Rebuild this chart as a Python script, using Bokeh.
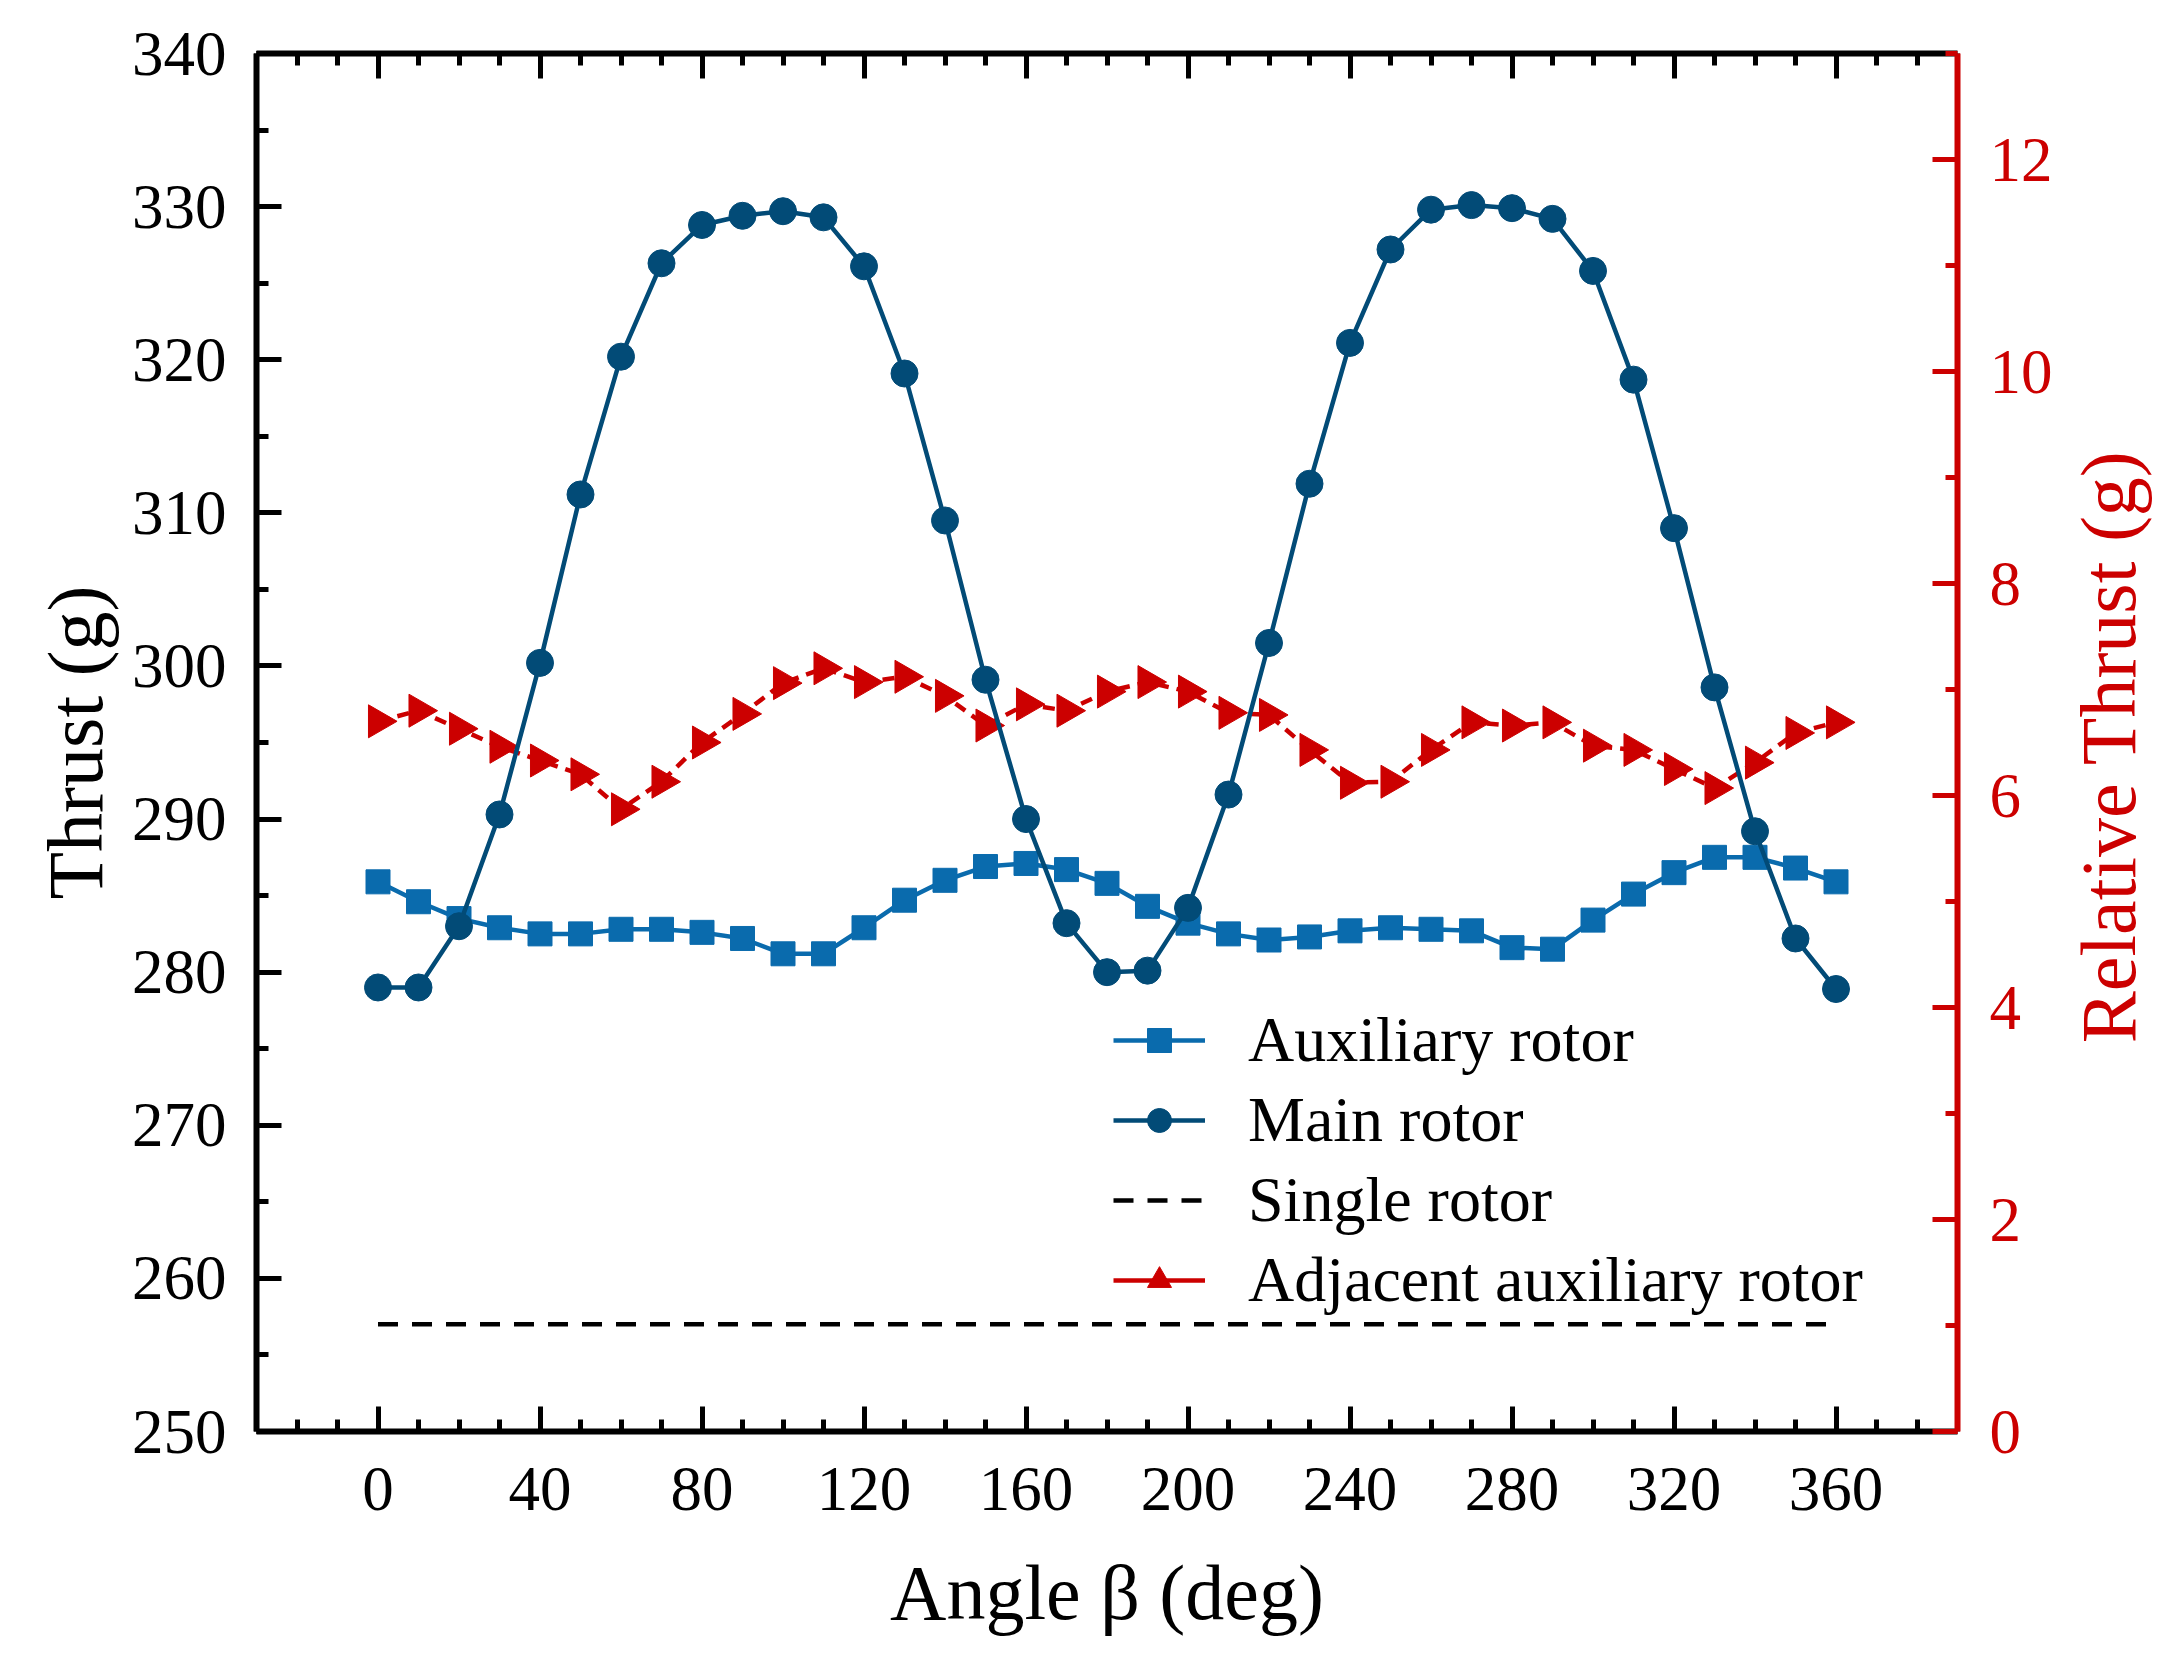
import math
from bokeh.plotting import figure
from bokeh.models import (Range1d, LinearAxis, SingleIntervalTicker, Legend,
                          LegendItem, ColumnDataSource, CustomJSTickFormatter, Label)
from bokeh.embed import file_html
from bokeh.resources import INLINE

# ---------------- data ----------------
angle = list(range(0, 361, 10))
main_rotor = [279.0, 279.0, 283.0, 290.3, 300.2, 311.2, 320.2, 326.3, 328.8, 329.4,
              329.7, 329.3, 326.1, 319.1, 309.5, 299.1, 290.0, 283.2, 280.0, 280.1,
              284.2, 291.6, 301.5, 311.9, 321.1, 327.2, 329.8, 330.1, 329.9, 329.2,
              325.8, 318.7, 309.0, 298.6, 289.2, 282.2, 278.9]
aux_rotor = [285.9, 284.6, 283.5, 282.9, 282.5, 282.5, 282.8, 282.8, 282.6, 282.2,
             281.2, 281.2, 282.9, 284.7, 286.0, 286.9, 287.1, 286.7, 285.8, 284.3,
             283.2, 282.5, 282.1, 282.3, 282.7, 282.9, 282.8, 282.7, 281.6, 281.5,
             283.4, 285.1, 286.5, 287.5, 287.5, 286.8, 285.9]
adjacent_aux = [6.70, 6.80, 6.63, 6.46, 6.33, 6.20, 5.87, 6.13, 6.50, 6.77,
                7.06, 7.20, 7.07, 7.12, 6.94, 6.66, 6.86, 6.80, 6.98, 7.07,
                6.98, 6.78, 6.76, 6.43, 6.12, 6.13, 6.43, 6.69, 6.66, 6.69,
                6.47, 6.43, 6.25, 6.07, 6.31, 6.59, 6.69]
single_rotor = 257.0

# ---------------- style ----------------
FONT = "Liberation Serif"
TICK_FS = "63px"
LABEL_FS = "78px"
C_MAIN = "#024B77"
C_AUX = "#0A6BAD"
C_RED = "#CC0000"

p = figure(width=2166, height=1638, output_backend="svg", toolbar_location=None,
           x_range=Range1d(-30, 390), y_range=Range1d(250, 340),
           min_border_left=256, min_border_right=209,
           min_border_top=53, min_border_bottom=201,
           x_axis_location=None, y_axis_location=None)
p.extra_y_ranges = {"right": Range1d(0, 13)}
p.grid.visible = False
p.outline_line_color = None
p.background_fill_color = "white"


def style_axis(ax, color, major_len=25, minor_len=12):
    ax.axis_line_color = color
    ax.axis_line_width = 6
    ax.major_tick_line_color = color
    ax.minor_tick_line_color = color
    ax.major_tick_line_width = 5
    ax.minor_tick_line_width = 5
    ax.major_tick_in = major_len
    ax.major_tick_out = 0
    ax.minor_tick_in = minor_len
    ax.minor_tick_out = 0
    ax.major_label_text_font = FONT
    ax.major_label_text_font_size = TICK_FS
    ax.major_label_text_color = color
    ax.axis_label_text_font = FONT
    ax.axis_label_text_font_size = LABEL_FS
    ax.axis_label_text_font_style = "normal"
    ax.axis_label_text_color = color


bottom = LinearAxis(ticker=SingleIntervalTicker(interval=40, num_minor_ticks=4),
                    axis_label="Angle β (deg)")
style_axis(bottom, "black")
bottom.major_label_standoff = 36
bottom.axis_label_standoff = 36
p.add_layout(bottom, "below")

top = LinearAxis(ticker=SingleIntervalTicker(interval=40, num_minor_ticks=4),
                 formatter=CustomJSTickFormatter(code="return ''"))
style_axis(top, "black")
top.major_label_text_font_size = "1px"
top.major_label_standoff = 0
p.add_layout(top, "above")

left = LinearAxis(ticker=SingleIntervalTicker(interval=10, num_minor_ticks=2),
                  axis_label="Thrust (g)")
style_axis(left, "black")
left.major_label_standoff = 30
left.axis_label_standoff = 10
p.add_layout(left, "left")

right = LinearAxis(y_range_name="right",
                   ticker=SingleIntervalTicker(interval=2, num_minor_ticks=2))
style_axis(right, C_RED)
right.major_label_standoff = 32
p.add_layout(right, "right")

# right axis title (reads bottom-to-top), placed in its own side panel
right_title = Label(x=53, y=685, x_units="screen", y_units="screen",
                    text="Relative Thrust (g)", angle=math.pi / 2,
                    text_align="center", text_baseline="middle",
                    text_font=FONT, text_font_size=LABEL_FS, text_color=C_RED)
p.add_layout(right_title, "right")

# ---------------- glyphs ----------------
src = ColumnDataSource(dict(angle=angle, main=main_rotor, aux=aux_rotor, adj=adjacent_aux))

single_ln = p.line(x=[angle[0], angle[-1]], y=[single_rotor, single_rotor],
                   line_color="black", line_width=4.5, line_dash="20 14")

adj_ln = p.line("angle", "adj", source=src, y_range_name="right",
                line_color=C_RED, line_width=4.5, line_dash="12 8")
adj_pt = p.scatter("angle", "adj", source=src, y_range_name="right", marker="triangle",
                   size=33, angle=-math.pi / 2, fill_color=C_RED, line_color=C_RED)
adj_leg = p.line(x=[angle[0]], y=[float("nan")], y_range_name="right",
                 line_color=C_RED, line_width=4.5)

aux_ln = p.line("angle", "aux", source=src, line_color=C_AUX, line_width=4.5)
aux_pt = p.scatter("angle", "aux", source=src, marker="square", size=24,
                   fill_color=C_AUX, line_color=C_AUX)

main_ln = p.line("angle", "main", source=src, line_color=C_MAIN, line_width=4.5)
main_pt = p.scatter("angle", "main", source=src, marker="circle", size=27,
                    fill_color=C_MAIN, line_color=C_MAIN)

legend = Legend(items=[
    LegendItem(label="Auxiliary rotor", renderers=[aux_ln, aux_pt]),
    LegendItem(label="Main rotor", renderers=[main_ln, main_pt]),
    LegendItem(label="Single rotor", renderers=[single_ln]),
    LegendItem(label="Adjacent auxiliary rotor", renderers=[adj_leg, adj_pt]),
], location=(857, 114))
legend.label_text_font = FONT
legend.label_text_font_size = "64px"
legend.label_text_color = "black"
legend.glyph_width = 92
legend.glyph_height = 60
legend.label_standoff = 43
legend.spacing = 6
legend.padding = 0
legend.margin = 0
legend.border_line_alpha = 0
legend.background_fill_alpha = 0
p.add_layout(legend, "center")

open("out.html", "w").write(file_html(p, INLINE))
